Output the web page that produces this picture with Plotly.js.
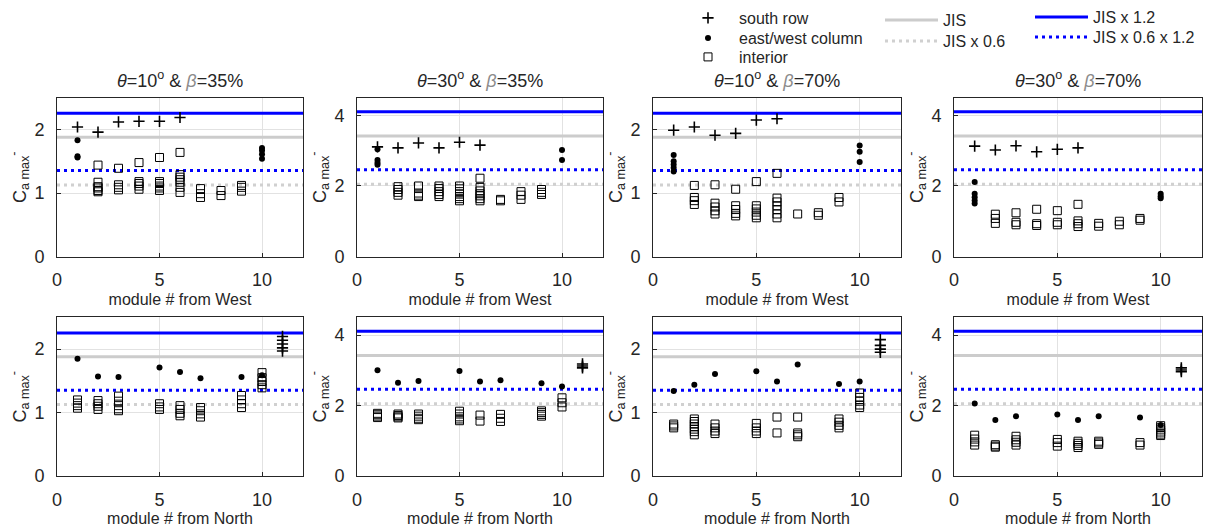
<!DOCTYPE html>
<html><head><meta charset="utf-8">
<script src="https://cdn.plot.ly/plotly-3.0.1.min.js"></script>
<style>html,body{margin:0;padding:0;background:#fff}</style>
</head><body><div id="chart" style="width:1214px;height:531px"></div>
<script>
// ---------------- DATA ----------------
const xTickVals = [0, 5, 10];
const yTicks10 = [0, 1, 2];
const yTicks30 = [0, 2, 4];
const jis10 = 1.88;   // JIS value for theta = 10 deg
const jis30 = 3.42;   // JIS value for theta = 30 deg
const refNames = ['JIS', 'JIS x 0.6', 'JIS x 1.2', 'JIS x 0.6 x 1.2'];
const refFactors = [1, 0.6, 1.2, 0.72];
const lineX = [0, 12];

const thetaTitles = [10, 30, 10, 30];
const betaTitles = [35, 35, 70, 70];

// Panel 1: theta=10, beta=35, from West
const p1_south_x = [1, 2, 3, 4, 5, 6];
const p1_south_y = [2.04, 1.96, 2.12, 2.13, 2.13, 2.19];
const p1_ew_x = [1, 1, 1, 10, 10, 10, 10];
const p1_ew_y = [1.83, 1.58, 1.56, 1.71, 1.67, 1.61, 1.54];
const p1_int_x = [2,2,2,2,2,2, 3,3,3,3, 4,4,4,4,4, 5,5,5,5,5,5, 6,6,6,6,6,6,6, 7,7,7, 8,8, 9,9,9];
const p1_int_y = [1.44,1.17,1.10,1.08,1.04,1.02, 1.39,1.13,1.09,1.05, 1.48,1.18,1.15,1.11,1.06, 1.56,1.18,1.15,1.11,1.08,1.04, 1.64,1.29,1.25,1.21,1.17,1.09,1.01, 1.07,0.99,0.93, 1.04,0.96, 1.12,1.09,1.03];

// Panel 2: theta=30, beta=35, from West
const p2_south_x = [1, 2, 3, 4, 5, 6];
const p2_south_y = [3.11, 3.08, 3.22, 3.08, 3.24, 3.16];
const p2_ew_x = [1, 1, 1, 1, 10, 10];
const p2_ew_y = [3.04, 2.74, 2.66, 2.60, 3.02, 2.74];
const p2_int_x = [2,2,2,2, 3,3,3,3, 4,4,4,4,4, 5,5,5,5,5,5,5, 6,6,6,6,6,6,6, 7,7, 8,8,8, 9,9,9];
const p2_int_y = [1.98,1.90,1.82,1.74, 2.00,1.80,1.74,1.70, 2.00,1.93,1.84,1.76,1.70, 2.00,1.92,1.84,1.77,1.70,1.64,1.58, 2.22,1.96,1.86,1.78,1.72,1.64,1.58, 1.62,1.58, 1.84,1.74,1.62, 1.90,1.82,1.76];

// Panel 3: theta=10, beta=70, from West
const p3_south_x = [1, 2, 3, 4, 5, 6];
const p3_south_y = [1.99, 2.04, 1.91, 1.94, 2.15, 2.17];
const p3_ew_x = [1, 1, 1, 1, 1, 10, 10, 10];
const p3_ew_y = [1.60, 1.50, 1.45, 1.40, 1.34, 1.75, 1.65, 1.49];
const p3_int_x = [2,2,2,2, 3,3,3,3,3, 4,4,4,4,4, 5,5,5,5,5,5, 6,6,6,6,6,6,6, 7, 8,8, 9,9];
const p3_int_y = [1.12,0.93,0.88,0.82, 1.13,0.84,0.78,0.72,0.67, 1.06,0.80,0.74,0.68,0.64, 1.18,0.80,0.75,0.70,0.65,0.61, 1.31,0.92,0.86,0.80,0.74,0.67,0.61, 0.67, 0.69,0.65, 0.93,0.86];

// Panel 4: theta=30, beta=70, from West
const p4_south_x = [1, 2, 3, 4, 5, 6];
const p4_south_y = [3.13, 3.02, 3.14, 2.97, 3.04, 3.08];
const p4_ew_x = [1, 1, 1, 1, 1, 10, 10, 10];
const p4_ew_y = [2.11, 1.78, 1.68, 1.59, 1.50, 1.78, 1.71, 1.65];
const p4_int_x = [2,2,2, 3,3,3, 4,4,4, 5,5,5, 6,6,6,6, 7,7, 8,8, 9,9];
const p4_int_y = [1.20,1.08,0.94, 1.24,0.97,0.90, 1.34,0.93,0.88, 1.30,0.97,0.90, 1.48,1.01,0.93,0.85, 0.94,0.86, 1.00,0.90, 1.08,1.03];

// Panel 5: theta=10, beta=35, from North
const p5_south_x = [11, 11, 11, 11, 11];
const p5_south_y = [2.20, 2.14, 2.08, 2.02, 1.97];
const p5_ew_x = [1, 2, 3, 5, 6, 7, 9, 10];
const p5_ew_y = [1.85, 1.57, 1.56, 1.71, 1.64, 1.54, 1.56, 1.59];
const p5_int_x = [1,1,1,1, 2,2,2,2, 3,3,3,3,3, 5,5,5, 6,6,6,6, 7,7,7,7, 9,9,9,9, 10,10,10,10,10];
const p5_int_y = [1.20,1.15,1.11,1.07, 1.19,1.14,1.10,1.05, 1.26,1.18,1.11,1.06,1.03, 1.14,1.09,1.05, 1.11,1.05,0.99,0.95, 1.08,1.03,0.98,0.93, 1.27,1.20,1.14,1.08, 1.63,1.55,1.49,1.44,1.39];

// Panel 6: theta=30, beta=35, from North
const p6_south_x = [11, 11, 11];
const p6_south_y = [3.18, 3.12, 3.07];
const p6_ew_x = [1, 2, 3, 5, 6, 7, 9, 10];
const p6_ew_y = [3.00, 2.65, 2.70, 2.98, 2.68, 2.72, 2.63, 2.54];
const p6_int_x = [1,1,1,1, 2,2,2,2, 3,3,3,3, 5,5,5,5,5, 6,6, 7,7,7, 9,9,9,9, 10,10,10];
const p6_int_y = [1.78,1.74,1.70,1.66, 1.76,1.72,1.68,1.65, 1.76,1.70,1.64,1.60, 1.84,1.76,1.68,1.62,1.57, 1.73,1.56, 1.75,1.64,1.55, 1.85,1.80,1.75,1.70, 2.22,2.08,1.96];

// Panel 7: theta=10, beta=70, from North
const p7_south_x = [11, 11, 11, 11];
const p7_south_y = [2.15, 2.06, 2.00, 1.95];
const p7_ew_x = [1, 2, 3, 5, 6, 7, 9, 10];
const p7_ew_y = [1.34, 1.44, 1.61, 1.65, 1.49, 1.76, 1.45, 1.49];
const p7_int_x = [1,1,1, 2,2,2,2,2,2,2, 3,3,3,3, 5,5,5,5, 6,6, 7,7,7,7, 9,9,9,9, 10,10,10,10,10];
const p7_int_y = [0.82,0.79,0.76, 0.90,0.86,0.82,0.78,0.74,0.70,0.65, 0.82,0.76,0.71,0.67, 0.83,0.76,0.71,0.67, 0.93,0.68, 0.93,0.68,0.65,0.62, 0.90,0.85,0.80,0.76, 1.31,1.24,1.18,1.12,1.08];

// Panel 8: theta=30, beta=70, from North
const p8_south_x = [11, 11, 11];
const p8_south_y = [3.07, 3.01, 2.96];
const p8_ew_x = [1, 2, 3, 5, 6, 7, 9, 10];
const p8_ew_y = [2.06, 1.59, 1.70, 1.75, 1.59, 1.70, 1.66, 1.45];
const p8_int_x = [1,1,1,1, 2,2,2, 3,3,3,3, 5,5,5, 6,6,6,6, 7,7,7, 9,9, 10,10,10,10,10,10];
const p8_int_y = [1.16,1.05,0.97,0.88, 0.89,0.85,0.82, 1.13,1.03,0.96,0.88, 1.04,0.95,0.85, 0.99,0.93,0.87,0.81, 0.99,0.94,0.90, 0.95,0.88, 1.43,1.37,1.31,1.25,1.19,1.15];

// ---------------- BUILD ----------------
const panels = [
  {s:[p1_south_x,p1_south_y], e:[p1_ew_x,p1_ew_y], i:[p1_int_x,p1_int_y], jis:jis10, yt:yTicks10, yr:[0,2.5], xl:'module # from West'},
  {s:[p2_south_x,p2_south_y], e:[p2_ew_x,p2_ew_y], i:[p2_int_x,p2_int_y], jis:jis30, yt:yTicks30, yr:[0,4.5], xl:'module # from West'},
  {s:[p3_south_x,p3_south_y], e:[p3_ew_x,p3_ew_y], i:[p3_int_x,p3_int_y], jis:jis10, yt:yTicks10, yr:[0,2.5], xl:'module # from West'},
  {s:[p4_south_x,p4_south_y], e:[p4_ew_x,p4_ew_y], i:[p4_int_x,p4_int_y], jis:jis30, yt:yTicks30, yr:[0,4.5], xl:'module # from West'},
  {s:[p5_south_x,p5_south_y], e:[p5_ew_x,p5_ew_y], i:[p5_int_x,p5_int_y], jis:jis10, yt:yTicks10, yr:[0,2.5], xl:'module # from North'},
  {s:[p6_south_x,p6_south_y], e:[p6_ew_x,p6_ew_y], i:[p6_int_x,p6_int_y], jis:jis30, yt:yTicks30, yr:[0,4.5], xl:'module # from North'},
  {s:[p7_south_x,p7_south_y], e:[p7_ew_x,p7_ew_y], i:[p7_int_x,p7_int_y], jis:jis10, yt:yTicks10, yr:[0,2.5], xl:'module # from North'},
  {s:[p8_south_x,p8_south_y], e:[p8_ew_x,p8_ew_y], i:[p8_int_x,p8_int_y], jis:jis30, yt:yTicks30, yr:[0,4.5], xl:'module # from North'}
];

const W = 1214, H = 531;
const colPx = [[57,303],[357,603],[653,901],[954,1202]];
const rowPx = [[97,256],[317,476]];
const FONT = 'Liberation Sans, Arial, sans-serif';
const TXT = '#262626';

const southMarker = {symbol:'cross-thin', size:8, color:'#000', line:{width:1.6, color:'#000'}};
const ewMarker = {symbol:'circle', size:6, color:'#000'};
const intMarker = {symbol:'square-open', size:8, color:'#000', line:{width:1, color:'#000'}};

const refStyles = [
  {color:'#cccccc', dash:'solid', legend:'legend4'},
  {color:'#d0d0d0', dash:'3px,4px', legend:'legend5'},
  {color:'#0000ff', dash:'solid', legend:'legend6'},
  {color:'#0000ff', dash:'3px,4px', legend:'legend7'}
];

function mkLegend(left, cy, iw) {
  return {x: left / W, y: 1 - cy / H, xanchor:'left', yanchor:'middle', bgcolor:'rgba(0,0,0,0)',
          borderwidth:0, itemwidth: iw, font:{size:16, family:FONT, color:TXT}, tracegroupgap:0};
}

const traces = [];
const layout = {
  width: W, height: H,
  margin: {l:0, r:0, t:0, b:0},
  paper_bgcolor: '#fff', plot_bgcolor: '#fff',
  font: {family: FONT, color: TXT, size: 16},
  annotations: [],
  legend:  mkLegend(677, 18, 52),
  legend2: mkLegend(677, 38, 52),
  legend3: mkLegend(677, 57, 52),
  legend4: mkLegend(880, 20, 53),
  legend5: mkLegend(880, 41, 53),
  legend6: mkLegend(1030, 16, 53),
  legend7: mkLegend(1030, 37, 53)
};

panels.forEach((p, k) => {
  const n = k + 1;
  const xa = 'x' + (n === 1 ? '' : n), ya = 'y' + (n === 1 ? '' : n);
  const col = k % 4, row = Math.floor(k / 4);
  const first = k === 0;
  refFactors.forEach((f, j) => {
    traces.push({
      type:'scatter', mode:'lines', x: lineX, y: lineX.map(() => p.jis * f),
      xaxis: xa, yaxis: ya, name: refNames[j], showlegend: first, legend: refStyles[j].legend,
      line: {color: refStyles[j].color, width: 3, dash: refStyles[j].dash}, hoverinfo:'skip'
    });
  });
  traces.push({type:'scatter', mode:'markers', x:p.i[0], y:p.i[1], xaxis:xa, yaxis:ya, name:'interior', showlegend:false, marker:intMarker});
  traces.push({type:'scatter', mode:'markers', x:p.e[0], y:p.e[1], xaxis:xa, yaxis:ya, name:'east/west column', showlegend:false, marker:ewMarker});
  traces.push({type:'scatter', mode:'markers', x:p.s[0], y:p.s[1], xaxis:xa, yaxis:ya, name:'south row', showlegend:false, marker:southMarker});

  const axCommon = {
    showline:true, mirror:true, linecolor:TXT, linewidth:1,
    showgrid:true, gridcolor:'#e2e2e2', gridwidth:1, zeroline:false,
    ticks:'inside', ticklen:4, tickcolor:TXT, tickfont:{size:18, family:FONT, color:TXT},
    fixedrange:true, automargin:false
  };
  layout['xaxis' + (n === 1 ? '' : n)] = Object.assign({}, axCommon, {
    domain:[colPx[col][0]/W, colPx[col][1]/W], anchor: ya, range:[0,12], tickvals:xTickVals,
    ticklabelstandoff: 7,
    title:{text:p.xl, font:{size:16, family:FONT, color:TXT}, standoff: 4}
  });
  layout['yaxis' + (n === 1 ? '' : n)] = Object.assign({}, axCommon, {
    domain:[1 - rowPx[row][1]/H, 1 - rowPx[row][0]/H], anchor: xa, range:p.yr, tickvals:p.yt,
    ticklabelstandoff: 8,
    title:{text:'C<sub>a max</sub><sup>-</sup>', font:{size:18, family:FONT, color:TXT}, standoff: 3}
  });
  if (row === 0) {
    layout.annotations.push({
      xref: xa + ' domain', yref: ya + ' domain', x:0.5, y:1, yanchor:'bottom', yshift:5, showarrow:false,
      text: '<i>θ</i>=' + thetaTitles[col] + '<sup>o</sup> & <span style="color:#8c8c8c"><i>β</i></span>=' + betaTitles[col] + '%',
      font:{size:18, family:FONT, color:TXT}
    });
  }
});

const legendTraces = [
  {type:'scatter', mode:'markers', x:[null], y:[null], name:'south row', marker:southMarker, legend:'legend', showlegend:true},
  {type:'scatter', mode:'markers', x:[null], y:[null], name:'east/west column', marker:ewMarker, legend:'legend2', showlegend:true},
  {type:'scatter', mode:'markers', x:[null], y:[null], name:'interior', marker:intMarker, legend:'legend3', showlegend:true}
];

Plotly.newPlot('chart', legendTraces.concat(traces), layout, {staticPlot:true, displayModeBar:false});
</script></body></html>
